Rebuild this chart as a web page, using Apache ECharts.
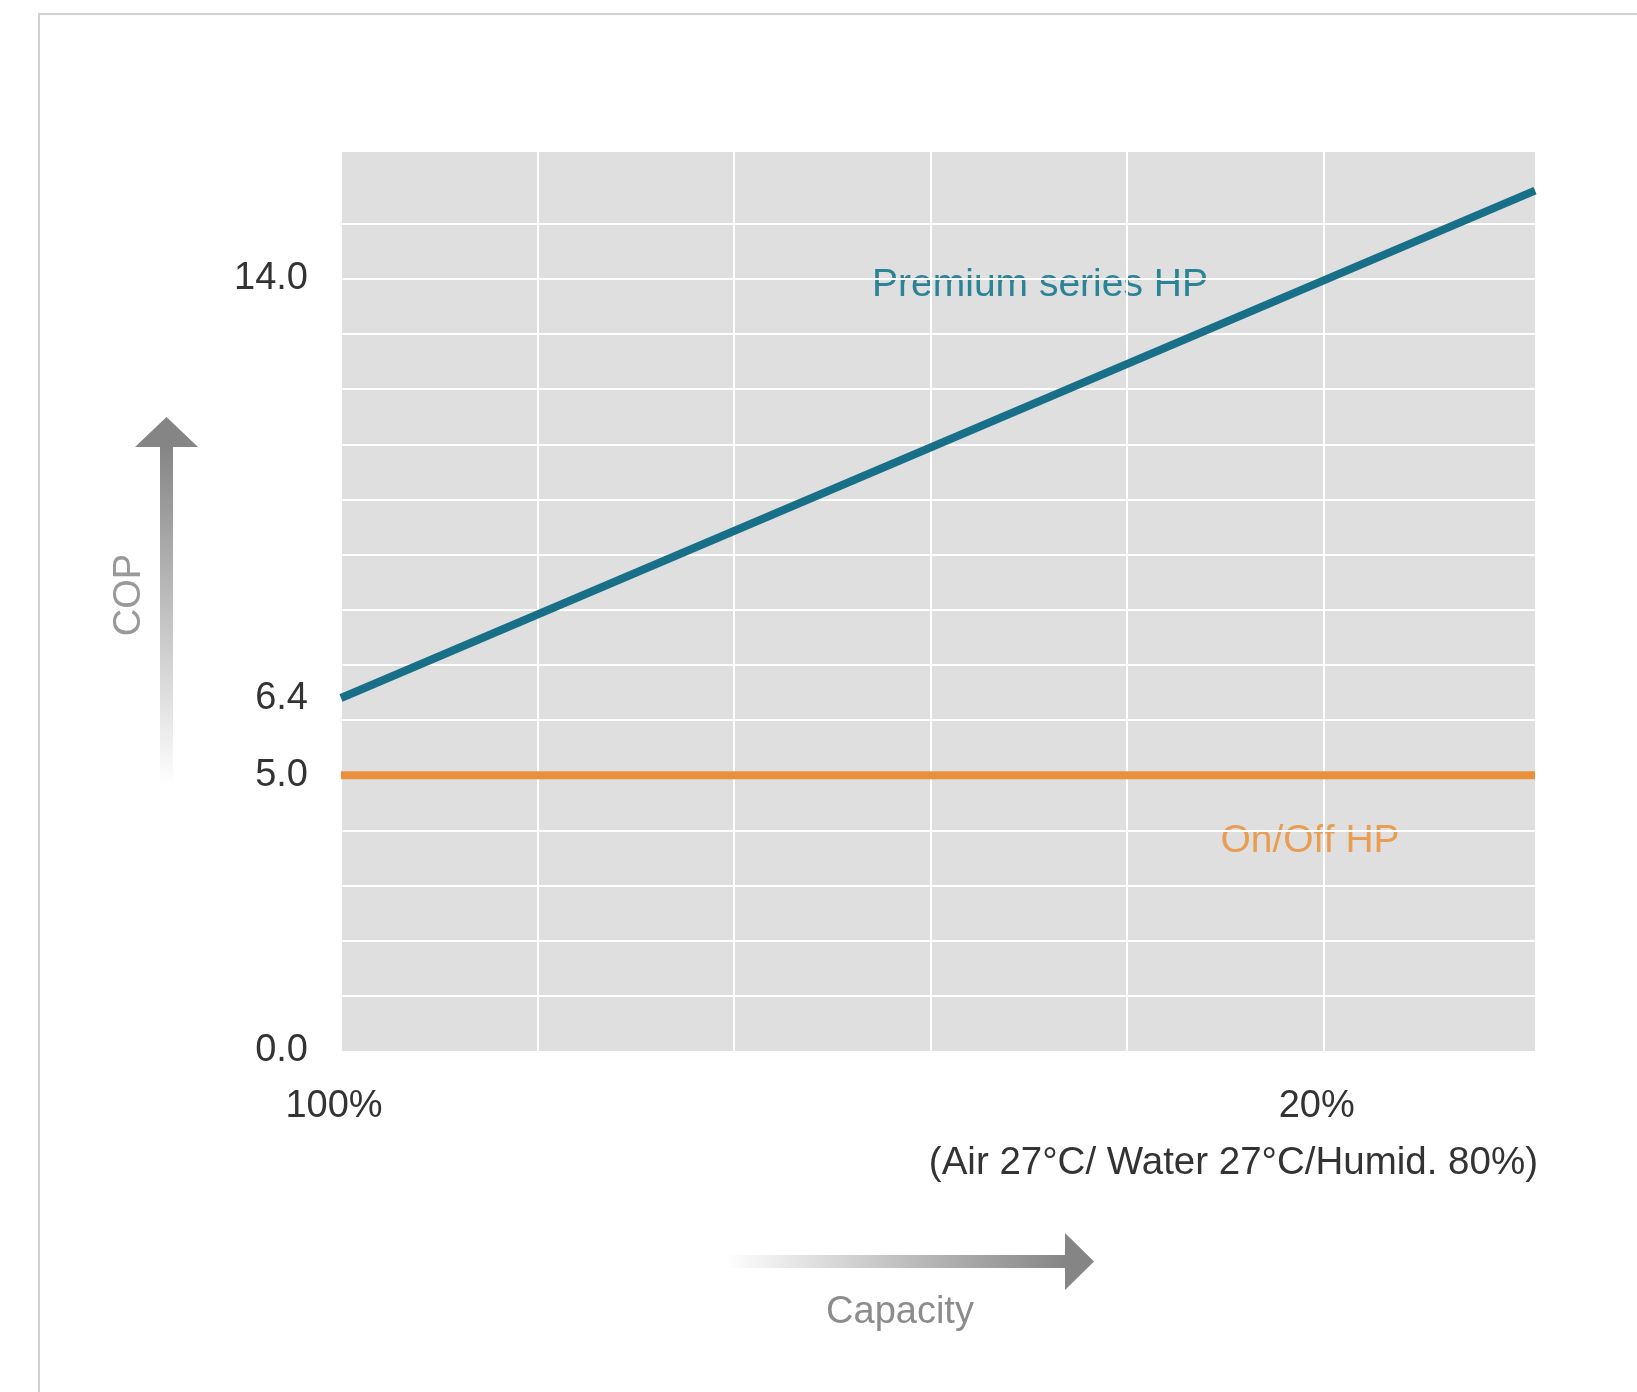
<!DOCTYPE html>
<html>
<head>
<meta charset="utf-8">
<script src="https://cdn.jsdelivr.net/npm/echarts@6/dist/echarts.min.js"></script>
<style>
  html, body { margin: 0; padding: 0; background: #ffffff; }
  #chart { width: 1637px; height: 1392px; }
</style>
</head>
<body>
<div id="chart"></div>
<script>
// Capacity (%) runs from full load on the left down towards low load on the right
const capacityPoints = [100, 2.8];
const premiumCOP = [6.4, 15.6];
const onOffCOP = [5.0, 5.0];

// Axis ticks and labels
const capacityGrid = [100, 84, 68, 52, 36, 20];
const capacityLabels = [100, 20];
const copGrid = [1, 2, 3, 4, 5, 6, 7, 8, 9, 10, 11, 12, 13, 14, 15];
const copLabels = [0, 5.0, 6.4, 14.0];
const copMax = 16.3;

const FONT = '"Liberation Sans", Arial, sans-serif';

const premiumData = capacityPoints.map((c, i) => [c, premiumCOP[i]]);
const onOffData = capacityPoints.map((c, i) => [c, onOffCOP[i]]);

const chart = echarts.init(document.getElementById('chart'), null, { renderer: 'canvas' });

const greyArrow = '#858585';

chart.setOption({
  backgroundColor: '#ffffff',
  animation: false,
  grid: {
    left: 341, right: 102, top: 152, bottom: 341,
    show: true, backgroundColor: '#dfdfdf', borderWidth: 0
  },
  xAxis: {
    type: 'value',
    inverse: true,
    min: capacityPoints[1],
    max: capacityPoints[0],
    axisLine: { show: false },
    axisTick: { show: false, customValues: capacityGrid },
    axisLabel: {
      customValues: capacityLabels,
      formatter: v => v + '%',
      color: '#333333', fontSize: 38, fontFamily: FONT, margin: 37,
      padding: [0, 14, 0, 0]
    },
    splitLine: { show: true, lineStyle: { color: '#ffffff', width: 2 } }
  },
  yAxis: {
    type: 'value',
    min: 0,
    max: copMax,
    axisLine: { show: false },
    axisTick: { show: false, customValues: copGrid },
    axisLabel: {
      customValues: copLabels,
      formatter: v => v.toFixed(1),
      color: '#333333', fontSize: 38, fontFamily: FONT, margin: 33
    },
    splitLine: { show: true, lineStyle: { color: '#ffffff', width: 2 } }
  },
  series: [
    {
      name: 'On/Off HP',
      type: 'line',
      data: onOffData,
      showSymbol: false,
      lineStyle: { color: '#e8903c', width: 8, cap: 'butt' },
      z: 3
    },
    {
      name: 'Premium series HP',
      type: 'line',
      data: premiumData,
      showSymbol: false,
      lineStyle: { color: '#176f88', width: 8, cap: 'butt' },
      z: 4
    }
  ],
  graphic: [
    // partial frame around the figure
    {
      type: 'rect', silent: true,
      shape: { x: 39, y: 14, width: 1700, height: 1500 },
      style: { fill: 'none', stroke: '#d2d2d2', lineWidth: 2 }
    },
    // series captions
    {
      type: 'text', x: 1040, y: 285, silent: true,
      style: { text: 'Premium series HP', fill: '#2b8396', fontSize: 39, fontFamily: FONT, align: 'center', verticalAlign: 'middle' }
    },
    {
      type: 'text', x: 1310, y: 841, silent: true,
      style: { text: 'On/Off HP', fill: '#e89d52', fontSize: 39, fontFamily: FONT, align: 'center', verticalAlign: 'middle' }
    },
    // test conditions under the capacity axis
    {
      type: 'text', x: 1538, y: 1163, silent: true,
      style: { text: '(Air 27°C/ Water 27°C/Humid. 80%)', fill: '#333333', fontSize: 38.5, fontFamily: FONT, align: 'right', verticalAlign: 'middle' }
    },
    // COP arrow (vertical, fading downwards)
    {
      type: 'rect', silent: true,
      shape: { x: 160, y: 446, width: 13, height: 340 },
      style: {
        fill: new echarts.graphic.LinearGradient(0, 0, 0, 1, [
          { offset: 0, color: greyArrow },
          { offset: 1, color: '#ffffff' }
        ])
      }
    },
    {
      type: 'polygon', silent: true,
      shape: { points: [[135, 447], [166.5, 417], [198, 447]] },
      style: { fill: greyArrow }
    },
    {
      type: 'text', x: 130, y: 595, rotation: Math.PI / 2, silent: true,
      style: { text: 'COP', fill: '#999999', fontSize: 38, fontFamily: FONT, align: 'center', verticalAlign: 'middle' }
    },
    // Capacity arrow (horizontal, fading leftwards)
    {
      type: 'rect', silent: true,
      shape: { x: 725, y: 1255, width: 341, height: 13 },
      style: {
        fill: new echarts.graphic.LinearGradient(0, 0, 1, 0, [
          { offset: 0, color: '#ffffff' },
          { offset: 1, color: greyArrow }
        ])
      }
    },
    {
      type: 'polygon', silent: true,
      shape: { points: [[1065, 1233], [1094, 1261.5], [1065, 1290]] },
      style: { fill: greyArrow }
    },
    {
      type: 'text', x: 900, y: 1313, silent: true,
      style: { text: 'Capacity', fill: '#8c8c8c', fontSize: 38, fontFamily: FONT, align: 'center', verticalAlign: 'middle' }
    }
  ]
});
</script>
</body>
</html>
